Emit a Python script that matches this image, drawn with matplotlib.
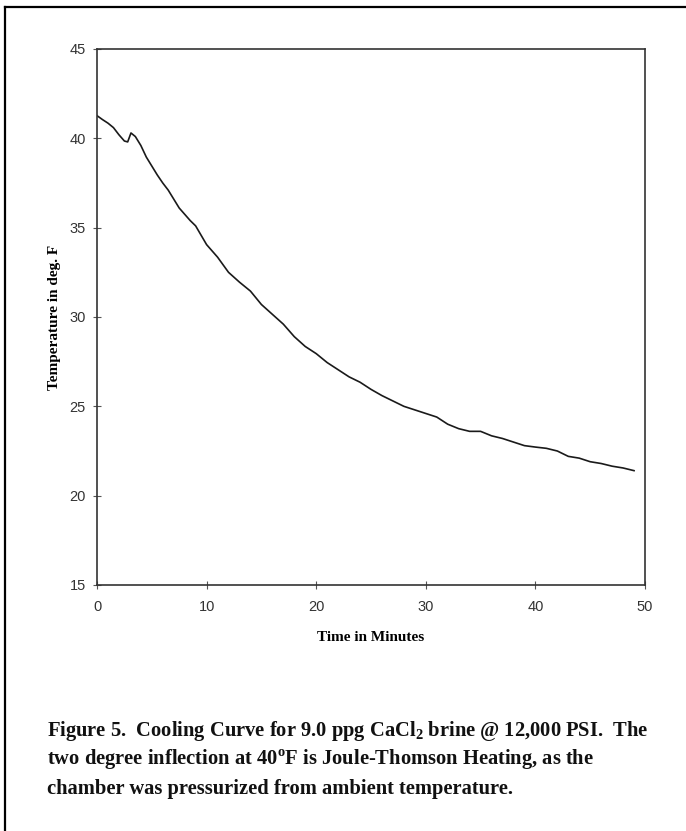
# Cooling curve, 9.0 ppg CaCl2 brine @ 12,000 PSI
import matplotlib
matplotlib.use('Agg')
import matplotlib.pyplot as plt
from matplotlib.lines import Line2D

# Data
time_min = [0, 0.5, 1, 1.5, 2, 2.5, 2.8, 3.1, 3.5, 4, 4.5, 5, 5.5, 6, 6.5, 7,
            7.5, 8, 8.5, 9, 10, 11, 12, 13, 14, 15, 16, 17, 18, 19, 20, 21,
            22, 23, 24, 25, 26, 27, 28, 29, 30, 31, 32, 33, 34, 35, 36, 37,
            38, 39, 40, 41, 42, 43, 44, 45, 46, 47, 48, 49]
temp_f = [41.27, 41.05, 40.85, 40.6, 40.2, 39.85, 39.8, 40.3, 40.1, 39.6,
          38.95, 38.45, 37.95, 37.5, 37.1, 36.6, 36.1, 35.75, 35.4, 35.1,
          34.05, 33.35, 32.5, 31.95, 31.45, 30.7, 30.15, 29.6, 28.9, 28.35,
          27.95, 27.45, 27.05, 26.65, 26.35, 25.95, 25.6, 25.3, 25.0, 24.8,
          24.6, 24.4, 24.0, 23.75, 23.6, 23.6, 23.35, 23.2, 23.0, 22.8,
          22.72, 22.65, 22.5, 22.2, 22.1, 21.9, 21.8, 21.65, 21.55, 21.4]

x_ticks = [0, 10, 20, 30, 40, 50]
y_ticks = [15, 20, 25, 30, 35, 40, 45]

caption = [
    r'Figure 5.  Cooling Curve for 9.0 ppg CaCl$_{\mathregular{2}}$ brine @ 12,000 PSI.  The',
    r'two degree inflection at 40$^{\mathregular{o}}$F is Joule-Thomson Heating, as the',
    'chamber was pressurized from ambient temperature.',
]

W, H = 686, 831
fig = plt.figure(figsize=(W / 100, H / 100), dpi=100)
ax = fig.add_axes([97 / W, 1 - 585 / H, (645 - 97) / W, (585 - 49) / H])

ax.plot(time_min, temp_f, color='#1a1a1a', linewidth=1.2)
ax.set_xlim(0, 50)
ax.set_ylim(15, 45)
ax.set_xticks(x_ticks)
ax.set_yticks(y_ticks)
ax.tick_params(direction='inout', length=6, width=0.8, color='#555555',
               labelsize=10.5, labelcolor='#333333')
ax.tick_params(axis='x', pad=8)
ax.tick_params(axis='y', pad=5)
for lab in ax.get_xticklabels() + ax.get_yticklabels():
    lab.set_family('Liberation Sans')
for s in ax.spines.values():
    s.set_color('#333333')
    s.set_linewidth(1.2)

ax.set_xlabel('Time in Minutes', family='Liberation Serif', fontweight='bold',
              fontsize=11, labelpad=12)
ax.set_ylabel('Temperature in deg. F', family='Liberation Serif', fontweight='bold',
              fontsize=11, labelpad=6)

# caption under the chart
for i, line in enumerate(caption):
    fig.text(47 / W, 1 - (731 + 29 * i) / H, line, family='Liberation Serif',
             fontweight='bold', fontsize=14.8, va='center', ha='left', color='#111111')

# page frame (only left and top edges show)
fig.add_artist(Line2D([5 / W, 5 / W], [0, 1 - 6.5 / H], color='black', linewidth=1.6))
fig.add_artist(Line2D([5 / W, 1], [1 - 6.5 / H, 1 - 6.5 / H], color='black', linewidth=1.6))

fig.savefig('out.png', dpi=100, facecolor='white')
